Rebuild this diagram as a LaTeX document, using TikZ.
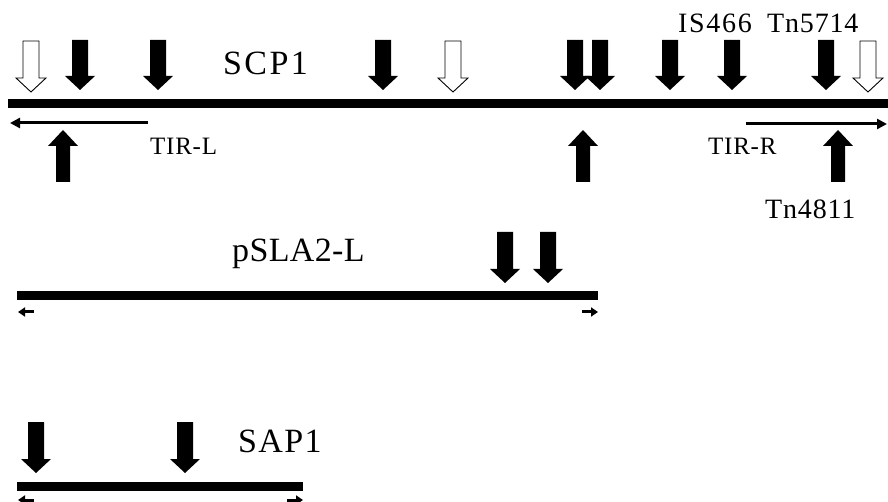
\documentclass[tikz,border=0pt]{standalone}
\usepackage{fontspec}
\setmainfont{Liberation Serif}
\newfontfamily\tmsA[LetterSpace=7]{Liberation Serif}
\newfontfamily\tmsB[LetterSpace=4]{Liberation Serif}
\newfontfamily\tmsC[LetterSpace=1]{Liberation Serif}
\newfontfamily\tmsD[LetterSpace=3]{Liberation Serif}
\newfontfamily\tmsE[LetterSpace=6]{Liberation Serif}
\usetikzlibrary{arrows.meta}
\newcommand\DArr[4]{% style, x, top, tip
  \path[#1] ({#2-8},{#3}) -- ({#2+8},{#3}) -- ({#2+8},{#4-14}) -- ({#2+15},{#4-14}) -- ({#2},{#4}) -- ({#2-15},{#4-14}) -- ({#2-8},{#4-14}) -- cycle;}
\newcommand\UArr[4]{% style, x, tip, bottom
  \path[#1] ({#2-7},{#4}) -- ({#2+7},{#4}) -- ({#2+7},{#3+16}) -- ({#2+15},{#3+16}) -- ({#2},{#3}) -- ({#2-15},{#3+16}) -- ({#2-7},{#3+16}) -- cycle;}
\tikzset{
  blk/.style={fill=black},
  wht/.style={draw=black,fill=white,line width=0.9pt},
  dna/.style={line width=9pt},
  tir/.style={line width=3pt,-{Triangle[length=10pt,width=10pt]}},
  tick/.style={line width=3pt,-{Triangle[length=7pt,width=9pt]}},
  title/.style={anchor=base west,inner sep=0pt},
  lab/.style={anchor=base west,inner sep=0pt,font=\tmsD\fontsize{28}{32}\selectfont},
  tirlab/.style={anchor=base west,inner sep=0pt,font=\tmsD\fontsize{25}{30}\selectfont},
}
\begin{document}
\begin{tikzpicture}[x=1pt,y=-1pt]
\useasboundingbox (0,0) rectangle (888,502);
% SCP1
\coordinate (s1) at (8,103.5);
\coordinate (s2) at (888,103.5);
\draw[dna] (s1) -- (s2);
\foreach \x in {80,158,383,575,600,670,732,826} {\DArr{blk}{\x}{40}{90}}
\foreach \x in {31,453,868} {\DArr{wht}{\x}{41}{92}}
\foreach \x in {63,583,838} {\UArr{blk}{\x}{130}{182}}
\coordinate (tl1) at (148,123);
\coordinate (tl2) at (10,123);
\draw[tir] (tl1) -- (tl2);
\coordinate (tr1) at (746,124);
\coordinate (tr2) at (887,124);
\draw[tir] (tr1) -- (tr2);
\node[title,font=\tmsA\fontsize{34}{40}\selectfont] (scp) at (223,75) {SCP1};
\node[lab,font=\tmsE\fontsize{28}{32}\selectfont] (is) at (678,33) {IS466};
\node[lab] (tn57) at (767,33) {Tn5714};
\node[tirlab] (tirl) at (150,155) {TIR-L};
\node[tirlab] (tirr) at (708,155) {TIR-R};
\node[lab] (tn48) at (765,219) {Tn4811};
% pSLA2-L
\coordinate (p1) at (17,295.5);
\coordinate (p2) at (598,295.5);
\draw[dna] (p1) -- (p2);
\foreach \x in {505,548} {\DArr{blk}{\x}{232}{283}}
\coordinate (pa1) at (34,312);
\coordinate (pa2) at (18,312);
\draw[tick] (pa1) -- (pa2);
\coordinate (pb1) at (582,312);
\coordinate (pb2) at (598,312);
\draw[tick] (pb1) -- (pb2);
\node[title,font=\tmsC\fontsize{34}{40}\selectfont] (psla) at (232,262) {pSLA2-L};
% SAP1
\coordinate (a1) at (17,486.5);
\coordinate (a2) at (303,486.5);
\draw[dna] (a1) -- (a2);
\foreach \x in {36,185} {\DArr{blk}{\x}{422}{473}}
\coordinate (sa1) at (34,500);
\coordinate (sa2) at (18,500);
\draw[tick] (sa1) -- (sa2);
\coordinate (sb1) at (287,500);
\coordinate (sb2) at (303,500);
\draw[tick] (sb1) -- (sb2);
\node[title,font=\tmsB\fontsize{34}{40}\selectfont] (sap) at (238,452) {SAP1};
\end{tikzpicture}
\end{document}
